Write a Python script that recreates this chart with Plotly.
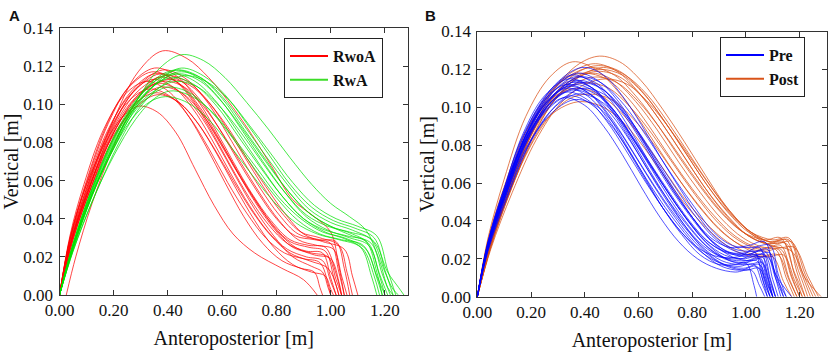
import plotly.graph_objects as go

# ---------------- DATA ----------------
# Each trajectory: list of (anteroposterior [m], vertical [m]) key points

rwoa_curves = [
    [(0,0),(0.05,0.032),(0.12,0.063),(0.20,0.092),(0.29,0.117),(0.38,0.128),(0.47,0.124),(0.55,0.114),(0.62,0.102),(0.70,0.086),(0.78,0.068),(0.86,0.050),(0.94,0.041),(1.00,0.033),(1.03,0.015),(1.05,0)],
    [(0,0),(0.04,0.030),(0.10,0.058),(0.17,0.080),(0.23,0.093),(0.29,0.099),(0.36,0.096),(0.43,0.085),(0.50,0.066),(0.57,0.047),(0.64,0.032),(0.72,0.022),(0.82,0.014),(0.90,0.008),(0.95,0)],
    [(0,0),(0.04,0.028),(0.10,0.056),(0.18,0.086),(0.26,0.106),(0.35,0.116),(0.43,0.112),(0.50,0.101),(0.57,0.085),(0.64,0.068),(0.71,0.052),(0.78,0.038),(0.85,0.028),(0.92,0.025),(0.98,0.023),(1.01,0.010),(1.03,0)],
    [(0,0),(0.04,0.030),(0.10,0.058),(0.18,0.087),(0.26,0.105),(0.34,0.113),(0.42,0.109),(0.49,0.098),(0.56,0.082),(0.63,0.064),(0.70,0.047),(0.77,0.033),(0.84,0.024),(0.91,0.020),(0.97,0.018),(1.00,0.007),(1.02,0)],
    [(0,0),(0.04,0.027),(0.10,0.054),(0.18,0.084),(0.27,0.106),(0.37,0.116),(0.45,0.112),(0.52,0.102),(0.59,0.087),(0.66,0.070),(0.73,0.054),(0.80,0.040),(0.87,0.031),(0.94,0.029),(1.00,0.027),(1.03,0.012),(1.05,0)],
    [(0,0),(0.04,0.026),(0.10,0.052),(0.18,0.081),(0.27,0.102),(0.36,0.111),(0.44,0.107),(0.51,0.096),(0.58,0.080),(0.65,0.062),(0.72,0.045),(0.79,0.031),(0.86,0.020),(0.93,0.015),(0.97,0.012),(0.99,0.004),(1.00,0)],
    [(0,0),(0.04,0.026),(0.11,0.056),(0.19,0.086),(0.28,0.108),(0.38,0.118),(0.46,0.114),(0.53,0.104),(0.60,0.089),(0.67,0.072),(0.74,0.056),(0.81,0.042),(0.88,0.032),(0.96,0.029),(1.02,0.028),(1.05,0.014),(1.07,0)],
    [(0,0),(0.04,0.029),(0.10,0.056),(0.17,0.082),(0.25,0.101),(0.33,0.108),(0.41,0.104),(0.48,0.093),(0.55,0.077),(0.62,0.059),(0.69,0.043),(0.76,0.030),(0.83,0.022),(0.90,0.019),(0.96,0.017),(0.99,0.006),(1.00,0)],
    [(0.025,0),(0.06,0.020),(0.12,0.048),(0.20,0.078),(0.28,0.101),(0.36,0.114),(0.44,0.111),(0.51,0.100),(0.58,0.084),(0.65,0.066),(0.72,0.049),(0.79,0.035),(0.86,0.025),(0.93,0.022),(0.99,0.020),(1.02,0.008),(1.04,0)],
    [(0,0),(0.04,0.027),(0.10,0.053),(0.18,0.080),(0.26,0.098),(0.35,0.106),(0.43,0.102),(0.50,0.092),(0.57,0.077),(0.64,0.060),(0.71,0.044),(0.78,0.031),(0.85,0.022),(0.92,0.018),(0.99,0.014),(1.02,0.005),(1.03,0)],
    [(0,0),(0.05,0.031),(0.11,0.057),(0.20,0.088),(0.29,0.107),(0.39,0.115),(0.47,0.112),(0.54,0.103),(0.61,0.089),(0.68,0.073),(0.75,0.057),(0.82,0.043),(0.89,0.033),(0.96,0.030),(1.03,0.026),(1.06,0.012),(1.08,0)],
    [(0,0),(0.04,0.031),(0.10,0.060),(0.17,0.088),(0.25,0.108),(0.34,0.117),(0.42,0.113),(0.49,0.102),(0.56,0.086),(0.63,0.068),(0.70,0.051),(0.77,0.037),(0.84,0.027),(0.91,0.023),(0.97,0.022),(1.00,0.009),(1.02,0)],
    [(0,0),(0.04,0.025),(0.10,0.050),(0.19,0.080),(0.28,0.100),(0.37,0.109),(0.45,0.106),(0.52,0.096),(0.59,0.081),(0.66,0.064),(0.73,0.048),(0.80,0.034),(0.87,0.025),(0.94,0.021),(1.00,0.019),(1.03,0.007),(1.04,0)],
    [(0,0),(0.04,0.032),(0.09,0.058),(0.16,0.086),(0.24,0.105),(0.32,0.112),(0.40,0.107),(0.47,0.095),(0.54,0.078),(0.61,0.059),(0.68,0.041),(0.75,0.027),(0.82,0.018),(0.89,0.014),(0.94,0.012),(0.96,0.004),(0.97,0)],
    [(0,0),(0.05,0.029),(0.11,0.054),(0.20,0.085),(0.29,0.104),(0.38,0.112),(0.46,0.109),(0.53,0.099),(0.60,0.085),(0.67,0.069),(0.74,0.053),(0.81,0.039),(0.88,0.029),(0.95,0.026),(1.01,0.024),(1.04,0.010),(1.06,0)],
    [(0,0),(0.04,0.030),(0.10,0.059),(0.18,0.090),(0.26,0.110),(0.35,0.119),(0.43,0.115),(0.50,0.104),(0.57,0.088),(0.64,0.070),(0.71,0.053),(0.78,0.039),(0.85,0.029),(0.92,0.026),(0.98,0.025),(1.02,0.011),(1.04,0)],
    [(0,0),(0.04,0.027),(0.10,0.052),(0.18,0.079),(0.27,0.097),(0.36,0.105),(0.44,0.101),(0.51,0.090),(0.58,0.074),(0.65,0.056),(0.72,0.039),(0.79,0.025),(0.86,0.016),(0.93,0.012),(0.98,0.010),(1.00,0.003),(1.01,0)],
    [(0,0),(0.05,0.029),(0.12,0.058),(0.21,0.088),(0.30,0.106),(0.40,0.113),(0.48,0.110),(0.55,0.101),(0.62,0.088),(0.69,0.072),(0.76,0.057),(0.83,0.043),(0.90,0.032),(0.97,0.028),(1.05,0.024),(1.08,0.010),(1.10,0)],
]

rwa_curves = [
    [(0,0),(0.05,0.024),(0.12,0.052),(0.20,0.079),(0.29,0.103),(0.37,0.119),(0.45,0.126),(0.53,0.123),(0.61,0.114),(0.69,0.101),(0.77,0.087),(0.85,0.072),(0.93,0.058),(1.00,0.048),(1.07,0.041),(1.13,0.034),(1.18,0.018),(1.21,0.004),(1.23,0)],
    [(0,0),(0.05,0.026),(0.12,0.055),(0.20,0.081),(0.28,0.101),(0.36,0.114),(0.43,0.118),(0.51,0.114),(0.59,0.103),(0.67,0.087),(0.75,0.070),(0.83,0.054),(0.91,0.041),(0.99,0.034),(1.07,0.030),(1.14,0.026),(1.18,0.010),(1.20,0)],
    [(0,0),(0.05,0.025),(0.12,0.053),(0.20,0.079),(0.28,0.099),(0.36,0.111),(0.44,0.116),(0.52,0.112),(0.60,0.101),(0.68,0.086),(0.76,0.070),(0.84,0.055),(0.92,0.043),(1.00,0.036),(1.08,0.031),(1.15,0.027),(1.19,0.011),(1.22,0)],
    [(0,0),(0.05,0.027),(0.12,0.056),(0.20,0.082),(0.28,0.100),(0.35,0.110),(0.42,0.114),(0.50,0.110),(0.58,0.099),(0.66,0.083),(0.74,0.067),(0.82,0.052),(0.90,0.040),(0.98,0.034),(1.06,0.031),(1.13,0.028),(1.17,0.012),(1.19,0)],
    [(0,0),(0.05,0.024),(0.12,0.052),(0.21,0.080),(0.30,0.102),(0.38,0.114),(0.45,0.119),(0.53,0.115),(0.61,0.105),(0.69,0.090),(0.77,0.074),(0.85,0.058),(0.93,0.046),(1.01,0.039),(1.09,0.035),(1.16,0.030),(1.20,0.013),(1.23,0)],
    [(0,0),(0.05,0.025),(0.12,0.052),(0.19,0.074),(0.26,0.091),(0.33,0.101),(0.39,0.104),(0.47,0.101),(0.55,0.092),(0.63,0.078),(0.71,0.063),(0.79,0.049),(0.87,0.038),(0.95,0.032),(1.03,0.029),(1.11,0.025),(1.15,0.010),(1.17,0)],
    [(0,0),(0.05,0.023),(0.12,0.049),(0.20,0.073),(0.28,0.092),(0.35,0.103),(0.41,0.107),(0.49,0.104),(0.57,0.095),(0.65,0.081),(0.73,0.066),(0.81,0.051),(0.89,0.040),(0.97,0.033),(1.05,0.030),(1.13,0.024),(1.17,0.009),(1.19,0)],
    [(0,0),(0.05,0.026),(0.12,0.054),(0.20,0.080),(0.28,0.098),(0.36,0.108),(0.43,0.112),(0.51,0.109),(0.59,0.099),(0.67,0.085),(0.75,0.069),(0.83,0.054),(0.91,0.042),(0.99,0.036),(1.07,0.033),(1.15,0.029),(1.20,0.012),(1.23,0.003),(1.25,0)],
    [(0,0),(0.05,0.025),(0.12,0.053),(0.21,0.081),(0.29,0.101),(0.37,0.112),(0.44,0.117),(0.52,0.114),(0.60,0.104),(0.68,0.089),(0.76,0.073),(0.84,0.058),(0.92,0.045),(1.00,0.038),(1.08,0.034),(1.16,0.028),(1.21,0.012),(1.25,0.004),(1.27,0)],
    [(0,0),(0.05,0.027),(0.12,0.056),(0.20,0.083),(0.28,0.102),(0.35,0.112),(0.42,0.116),(0.50,0.112),(0.58,0.101),(0.66,0.085),(0.74,0.068),(0.82,0.052),(0.90,0.040),(0.98,0.033),(1.06,0.029),(1.12,0.024),(1.16,0.010),(1.18,0)],
    [(0,0),(0.05,0.023),(0.13,0.052),(0.22,0.080),(0.30,0.099),(0.38,0.110),(0.46,0.115),(0.54,0.112),(0.62,0.103),(0.70,0.089),(0.78,0.074),(0.86,0.059),(0.94,0.047),(1.02,0.040),(1.10,0.036),(1.17,0.031),(1.21,0.013),(1.24,0)],
    [(0,0),(0.05,0.026),(0.12,0.055),(0.20,0.082),(0.29,0.103),(0.37,0.114),(0.44,0.118),(0.52,0.114),(0.60,0.103),(0.68,0.087),(0.76,0.071),(0.84,0.055),(0.92,0.043),(1.00,0.036),(1.08,0.032),(1.14,0.027),(1.18,0.011),(1.21,0)],
    [(0,0),(0.05,0.026),(0.12,0.053),(0.20,0.077),(0.27,0.095),(0.34,0.105),(0.40,0.109),(0.48,0.106),(0.56,0.096),(0.64,0.082),(0.72,0.066),(0.80,0.051),(0.88,0.039),(0.96,0.032),(1.04,0.029),(1.12,0.026),(1.17,0.010),(1.20,0)],
]

pre_curves = [
    [(0,0),(0.04,0.027),(0.10,0.053),(0.18,0.083),(0.26,0.103),(0.35,0.113),(0.43,0.110),(0.50,0.100),(0.57,0.086),(0.64,0.070),(0.71,0.055),(0.78,0.041),(0.85,0.029),(0.92,0.022),(0.99,0.020),(1.05,0.021),(1.08,0.010),(1.10,0)],
    [(0,0),(0.04,0.027),(0.11,0.058),(0.19,0.089),(0.29,0.112),(0.39,0.121),(0.47,0.117),(0.54,0.106),(0.61,0.091),(0.68,0.074),(0.75,0.058),(0.82,0.043),(0.89,0.031),(0.96,0.025),(1.03,0.024),(1.08,0.025),(1.11,0.010),(1.13,0)],
    [(0,0),(0.04,0.028),(0.10,0.054),(0.17,0.080),(0.25,0.099),(0.33,0.108),(0.41,0.104),(0.48,0.093),(0.55,0.078),(0.62,0.062),(0.69,0.047),(0.76,0.034),(0.83,0.024),(0.90,0.018),(0.97,0.016),(1.03,0.017),(1.06,0.007),(1.08,0)],
    [(0,0),(0.04,0.026),(0.10,0.053),(0.18,0.085),(0.27,0.106),(0.36,0.116),(0.44,0.113),(0.51,0.103),(0.58,0.089),(0.65,0.073),(0.72,0.057),(0.79,0.043),(0.86,0.031),(0.93,0.024),(1.00,0.022),(1.06,0.024),(1.09,0.010),(1.11,0)],
    [(0,0),(0.04,0.028),(0.10,0.055),(0.18,0.084),(0.26,0.103),(0.34,0.111),(0.42,0.107),(0.49,0.096),(0.56,0.081),(0.63,0.065),(0.70,0.050),(0.77,0.037),(0.84,0.026),(0.91,0.019),(0.98,0.017),(1.04,0.019),(1.07,0.008),(1.09,0)],
    [(0,0),(0.04,0.025),(0.11,0.055),(0.19,0.085),(0.28,0.105),(0.37,0.114),(0.45,0.111),(0.52,0.102),(0.59,0.088),(0.66,0.072),(0.73,0.056),(0.80,0.042),(0.87,0.030),(0.94,0.023),(1.01,0.021),(1.07,0.022),(1.10,0.009),(1.12,0)],
    [(0,0),(0.04,0.029),(0.09,0.053),(0.16,0.078),(0.24,0.096),(0.32,0.105),(0.40,0.101),(0.47,0.090),(0.54,0.075),(0.61,0.058),(0.68,0.042),(0.75,0.029),(0.82,0.020),(0.89,0.015),(0.96,0.013),(1.02,0.014),(1.05,0.006),(1.07,0)],
    [(0,0),(0.04,0.026),(0.11,0.056),(0.20,0.088),(0.29,0.107),(0.38,0.116),(0.46,0.113),(0.53,0.104),(0.60,0.091),(0.67,0.076),(0.74,0.061),(0.81,0.047),(0.88,0.034),(0.95,0.027),(1.02,0.026),(1.09,0.027),(1.12,0.012),(1.15,0)],
    [(0,0),(0.04,0.027),(0.10,0.052),(0.18,0.081),(0.26,0.100),(0.35,0.109),(0.43,0.106),(0.50,0.096),(0.57,0.082),(0.64,0.066),(0.71,0.051),(0.78,0.038),(0.85,0.027),(0.92,0.020),(0.99,0.018),(1.05,0.020),(1.08,0.008),(1.10,0)],
    [(0,0),(0.04,0.028),(0.10,0.055),(0.18,0.085),(0.27,0.105),(0.36,0.112),(0.44,0.108),(0.51,0.098),(0.58,0.083),(0.65,0.067),(0.72,0.051),(0.79,0.037),(0.86,0.026),(0.93,0.020),(1.00,0.019),(1.06,0.021),(1.09,0.009),(1.11,0)],
    [(0,0),(0.04,0.029),(0.10,0.057),(0.17,0.086),(0.25,0.106),(0.34,0.115),(0.42,0.111),(0.49,0.100),(0.56,0.085),(0.63,0.068),(0.70,0.052),(0.77,0.038),(0.84,0.027),(0.91,0.021),(0.98,0.020),(1.04,0.022),(1.07,0.009),(1.09,0)],
    [(0,0),(0.04,0.025),(0.11,0.053),(0.19,0.080),(0.28,0.099),(0.37,0.107),(0.45,0.104),(0.52,0.095),(0.59,0.081),(0.66,0.066),(0.73,0.051),(0.80,0.037),(0.87,0.026),(0.94,0.019),(1.01,0.017),(1.06,0.018),(1.09,0.007),(1.11,0)],
    [(0,0),(0.04,0.027),(0.10,0.056),(0.18,0.087),(0.26,0.107),(0.35,0.117),(0.43,0.113),(0.50,0.103),(0.57,0.088),(0.64,0.071),(0.71,0.055),(0.78,0.041),(0.85,0.030),(0.92,0.024),(0.99,0.023),(1.05,0.026),(1.08,0.011),(1.10,0)],
    [(0,0),(0.04,0.029),(0.10,0.057),(0.17,0.085),(0.25,0.104),(0.33,0.112),(0.41,0.108),(0.48,0.097),(0.55,0.081),(0.62,0.064),(0.69,0.047),(0.76,0.033),(0.83,0.022),(0.90,0.017),(0.96,0.017),(1.00,0.018),(1.03,0.006),(1.04,0)],
    [(0,0),(0.04,0.026),(0.10,0.053),(0.18,0.082),(0.27,0.102),(0.36,0.110),(0.44,0.107),(0.51,0.098),(0.58,0.084),(0.65,0.069),(0.72,0.054),(0.79,0.040),(0.86,0.029),(0.93,0.023),(1.00,0.022),(1.07,0.024),(1.11,0.010),(1.14,0)],
    [(0,0),(0.04,0.026),(0.11,0.055),(0.20,0.086),(0.29,0.105),(0.38,0.113),(0.46,0.110),(0.53,0.101),(0.60,0.087),(0.67,0.071),(0.74,0.055),(0.81,0.040),(0.88,0.028),(0.95,0.021),(1.02,0.019),(1.08,0.021),(1.12,0.008),(1.15,0)],
    [(0,0),(0.04,0.027),(0.10,0.053),(0.17,0.078),(0.25,0.097),(0.34,0.106),(0.42,0.102),(0.49,0.092),(0.56,0.078),(0.63,0.062),(0.70,0.047),(0.77,0.034),(0.84,0.023),(0.91,0.016),(0.98,0.014),(1.04,0.016),(1.07,0.006),(1.09,0)],
    [(0,0),(0.04,0.027),(0.11,0.057),(0.19,0.088),(0.28,0.109),(0.37,0.118),(0.45,0.114),(0.52,0.104),(0.59,0.089),(0.66,0.072),(0.73,0.056),(0.80,0.042),(0.87,0.031),(0.94,0.026),(1.01,0.027),(1.07,0.029),(1.11,0.012),(1.17,0)],
    [(0,0),(0.04,0.028),(0.10,0.055),(0.18,0.085),(0.26,0.105),(0.35,0.114),(0.43,0.110),(0.50,0.099),(0.57,0.084),(0.64,0.067),(0.71,0.051),(0.78,0.036),(0.85,0.024),(0.92,0.017),(0.99,0.015),(1.05,0.017),(1.08,0.007),(1.10,0)],
    [(0,0),(0.04,0.028),(0.10,0.055),(0.17,0.082),(0.25,0.101),(0.33,0.110),(0.41,0.106),(0.48,0.095),(0.55,0.080),(0.62,0.063),(0.69,0.047),(0.76,0.034),(0.83,0.025),(0.90,0.021),(0.97,0.021),(1.03,0.024),(1.06,0.010),(1.08,0)],
    [(0,0),(0.04,0.024),(0.11,0.052),(0.20,0.082),(0.30,0.102),(0.39,0.110),(0.47,0.107),(0.54,0.098),(0.61,0.085),(0.68,0.070),(0.75,0.055),(0.82,0.041),(0.89,0.030),(0.96,0.024),(1.03,0.022),(1.09,0.023),(1.12,0.009),(1.14,0)],
    [(0,0),(0.04,0.026),(0.10,0.051),(0.18,0.078),(0.27,0.096),(0.36,0.104),(0.44,0.101),(0.51,0.091),(0.58,0.076),(0.65,0.060),(0.72,0.045),(0.79,0.032),(0.86,0.022),(0.93,0.016),(1.00,0.014),(1.05,0.015),(1.08,0.006),(1.10,0)],
]

post_curves = [
    [(0,0),(0.05,0.028),(0.12,0.058),(0.21,0.090),(0.30,0.112),(0.38,0.123),(0.455,0.127),(0.53,0.124),(0.61,0.114),(0.69,0.099),(0.77,0.082),(0.85,0.064),(0.93,0.047),(1.01,0.035),(1.09,0.029),(1.16,0.030),(1.20,0.015),(1.24,0)],
    [(0,0),(0.04,0.031),(0.10,0.062),(0.18,0.095),(0.27,0.116),(0.355,0.124),(0.44,0.120),(0.52,0.109),(0.60,0.094),(0.68,0.077),(0.76,0.060),(0.84,0.045),(0.92,0.033),(1.00,0.026),(1.07,0.024),(1.13,0.025),(1.17,0.010),(1.20,0)],
    [(0,0),(0.05,0.027),(0.12,0.057),(0.21,0.088),(0.30,0.109),(0.38,0.119),(0.45,0.122),(0.53,0.119),(0.61,0.109),(0.69,0.094),(0.77,0.077),(0.85,0.060),(0.93,0.045),(1.01,0.034),(1.09,0.029),(1.15,0.030),(1.19,0.013),(1.22,0)],
    [(0,0),(0.05,0.026),(0.13,0.058),(0.22,0.088),(0.31,0.108),(0.39,0.117),(0.47,0.121),(0.55,0.117),(0.63,0.107),(0.71,0.092),(0.79,0.075),(0.87,0.058),(0.95,0.043),(1.03,0.033),(1.11,0.028),(1.17,0.029),(1.22,0.012),(1.26,0)],
    [(0,0),(0.05,0.028),(0.12,0.058),(0.20,0.087),(0.28,0.106),(0.36,0.115),(0.43,0.118),(0.51,0.114),(0.59,0.103),(0.67,0.088),(0.75,0.071),(0.83,0.055),(0.91,0.041),(0.99,0.031),(1.07,0.026),(1.13,0.027),(1.17,0.011),(1.20,0)],
    [(0,0),(0.05,0.029),(0.12,0.060),(0.20,0.090),(0.29,0.111),(0.37,0.120),(0.44,0.123),(0.52,0.119),(0.60,0.108),(0.68,0.093),(0.76,0.076),(0.84,0.059),(0.92,0.044),(1.00,0.033),(1.08,0.028),(1.14,0.029),(1.18,0.012),(1.21,0)],
    [(0,0),(0.05,0.025),(0.13,0.055),(0.22,0.083),(0.31,0.102),(0.40,0.112),(0.48,0.115),(0.56,0.112),(0.64,0.102),(0.72,0.088),(0.80,0.072),(0.88,0.056),(0.96,0.042),(1.04,0.031),(1.12,0.026),(1.18,0.026),(1.23,0.011),(1.27,0)],
    [(0,0),(0.05,0.027),(0.12,0.055),(0.20,0.080),(0.28,0.097),(0.35,0.105),(0.42,0.107),(0.50,0.104),(0.58,0.094),(0.66,0.080),(0.74,0.064),(0.82,0.049),(0.90,0.036),(0.98,0.027),(1.06,0.022),(1.12,0.022),(1.16,0.009),(1.19,0)],
    [(0,0),(0.05,0.028),(0.12,0.055),(0.19,0.078),(0.26,0.094),(0.33,0.101),(0.39,0.103),(0.47,0.100),(0.55,0.091),(0.63,0.077),(0.71,0.061),(0.79,0.046),(0.87,0.034),(0.95,0.025),(1.03,0.021),(1.10,0.021),(1.14,0.008),(1.17,0)],
    [(0,0),(0.05,0.027),(0.12,0.057),(0.21,0.088),(0.30,0.108),(0.38,0.117),(0.46,0.120),(0.54,0.117),(0.62,0.107),(0.70,0.092),(0.78,0.075),(0.86,0.058),(0.94,0.044),(1.02,0.034),(1.10,0.030),(1.16,0.031),(1.21,0.013),(1.25,0)],
    [(0,0),(0.04,0.030),(0.10,0.058),(0.18,0.087),(0.27,0.104),(0.37,0.110),(0.45,0.107),(0.53,0.098),(0.61,0.084),(0.69,0.068),(0.77,0.052),(0.85,0.039),(0.93,0.029),(1.01,0.023),(1.08,0.021),(1.14,0.022),(1.18,0.009),(1.21,0)],
    [(0,0),(0.05,0.027),(0.12,0.056),(0.20,0.085),(0.29,0.104),(0.37,0.113),(0.44,0.116),(0.52,0.113),(0.60,0.103),(0.68,0.089),(0.76,0.073),(0.84,0.057),(0.92,0.043),(1.00,0.033),(1.08,0.028),(1.15,0.028),(1.20,0.012),(1.23,0)],
    [(0,0),(0.05,0.029),(0.12,0.058),(0.20,0.086),(0.28,0.104),(0.35,0.111),(0.41,0.113),(0.49,0.110),(0.57,0.100),(0.65,0.086),(0.73,0.070),(0.81,0.054),(0.89,0.040),(0.97,0.030),(1.05,0.025),(1.12,0.025),(1.16,0.010),(1.19,0)],
    [(0,0),(0.05,0.026),(0.12,0.055),(0.21,0.086),(0.30,0.106),(0.38,0.116),(0.45,0.119),(0.53,0.116),(0.61,0.106),(0.69,0.091),(0.77,0.074),(0.85,0.057),(0.93,0.043),(1.01,0.032),(1.09,0.027),(1.17,0.024),(1.22,0.010),(1.26,0.003),(1.28,0)],
    [(0,0),(0.04,0.029),(0.11,0.060),(0.19,0.090),(0.27,0.108),(0.34,0.116),(0.40,0.118),(0.48,0.115),(0.56,0.105),(0.64,0.090),(0.72,0.073),(0.80,0.057),(0.88,0.043),(0.96,0.032),(1.04,0.026),(1.11,0.025),(1.15,0.010),(1.18,0)],
    [(0,0),(0.05,0.028),(0.12,0.059),(0.20,0.089),(0.29,0.110),(0.36,0.118),(0.43,0.121),(0.51,0.117),(0.59,0.106),(0.67,0.091),(0.75,0.074),(0.83,0.058),(0.91,0.044),(0.99,0.034),(1.07,0.030),(1.13,0.031),(1.18,0.013),(1.22,0)],
]

x_tick_vals = [0.0, 0.2, 0.4, 0.6, 0.8, 1.0, 1.2]
y_tick_vals = [0.0, 0.02, 0.04, 0.06, 0.08, 0.10, 0.12, 0.14]
legend_a = ["RwoA", "RwA"]
legend_b = ["Pre", "Post"]
x_title = "Anteroposterior [m]"
y_title = "Vertical [m]"

# ---------------- STYLE ----------------
W, H = 829, 353
SERIF = "'Liberation Serif', 'Times New Roman', Times, 'DejaVu Serif', serif"
SANS = "'Liberation Sans', Arial, sans-serif"
RED = "rgba(255,0,0,0.72)"
GREEN = "rgba(0,225,0,0.72)"
BLUE = "rgba(0,0,255,0.68)"
ORANGE = "rgba(217,83,25,0.75)"
TXT = "#111"

fig = go.Figure()


def add_group(curves, color, xa, ya):
    for pts in curves:
        fig.add_trace(go.Scatter(
            x=[p[0] for p in pts], y=[p[1] for p in pts],
            mode="lines", line=dict(color=color, width=1, shape="spline", smoothing=1.0),
            xaxis=xa, yaxis=ya, showlegend=False, hoverinfo="skip"))


add_group(rwoa_curves, RED, "x", "y")
add_group(rwa_curves, GREEN, "x", "y")
add_group(post_curves, ORANGE, "x2", "y2")
add_group(pre_curves, BLUE, "x2", "y2")

# legend entries
for name, col, lg, xa, ya in [
    (legend_a[0], "rgb(255,0,0)", "legend", "x", "y"),
    (legend_a[1], "rgb(60,220,40)", "legend", "x", "y"),
    (legend_b[0], "rgb(0,0,255)", "legend2", "x2", "y2"),
    (legend_b[1], "rgb(217,83,25)", "legend2", "x2", "y2"),
]:
    fig.add_trace(go.Scatter(x=[None], y=[None], mode="lines", name=name,
                             line=dict(color=col, width=2), xaxis=xa, yaxis=ya,
                             legend=lg, showlegend=True))

axis_common = dict(
    showline=True, linecolor="#333", linewidth=1, mirror="allticks",
    ticks="inside", ticklen=5, tickcolor="#333", tickwidth=1,
    showgrid=False, zeroline=False, tickformat=".2f", automargin=False,
    tickfont=dict(family=SERIF, size=17, color=TXT),
)
title_font = dict(family=SERIF, size=20, color=TXT)

fig.update_layout(
    xaxis=dict(domain=[59.5 / W, 408 / W], range=[0, 1.285], tickvals=x_tick_vals,
               anchor="y", ticklabelstandoff=0,
               title=dict(text=x_title, font=title_font, standoff=11), **axis_common),
    yaxis=dict(domain=[(H - 295) / H, (H - 28) / H], range=[0, 0.14], tickvals=y_tick_vals,
               anchor="x", ticklabelstandoff=2,
               title=dict(text=y_title, font=title_font, standoff=1), **axis_common),
    xaxis2=dict(domain=[477.3 / W, 826.5 / W], range=[0, 1.30], tickvals=x_tick_vals,
                anchor="y2", ticklabelstandoff=0,
                title=dict(text=x_title, font=title_font, standoff=11), **axis_common),
    yaxis2=dict(domain=[(H - 296.7) / H, (H - 31.5) / H], range=[0, 0.14], tickvals=y_tick_vals,
                anchor="x2", ticklabelstandoff=2,
                title=dict(text=y_title, font=title_font, standoff=1), **axis_common),
)

legend_common = dict(
    bgcolor="white", bordercolor="#222", borderwidth=1,
    font=dict(family=SERIF, size=16, color=TXT, weight="bold"),
    xanchor="left", yanchor="top", tracegroupgap=0, itemwidth=38,
)
fig.update_layout(
    legend=dict(x=284 / W, y=1 - 38 / H, **legend_common),
    legend2=dict(x=720 / W, y=1 - 37 / H, **legend_common),
)

fig.add_annotation(text="<b>A</b>", x=7 / W, y=1 - 5 / H, xref="paper", yref="paper",
                   xanchor="left", yanchor="top", showarrow=False,
                   font=dict(family=SANS, size=15, color=TXT))
fig.add_annotation(text="<b>B</b>", x=423 / W, y=1 - 5 / H, xref="paper", yref="paper",
                   xanchor="left", yanchor="top", showarrow=False,
                   font=dict(family=SANS, size=15, color=TXT))

fig.update_layout(
    width=W, height=H, margin=dict(l=0, r=0, t=0, b=0),
    paper_bgcolor="white", plot_bgcolor="white",
)

fig.write_html("out.html", config={"displayModeBar": False},
               post_script="document.body.style.margin='0';document.body.style.overflow='hidden';")
